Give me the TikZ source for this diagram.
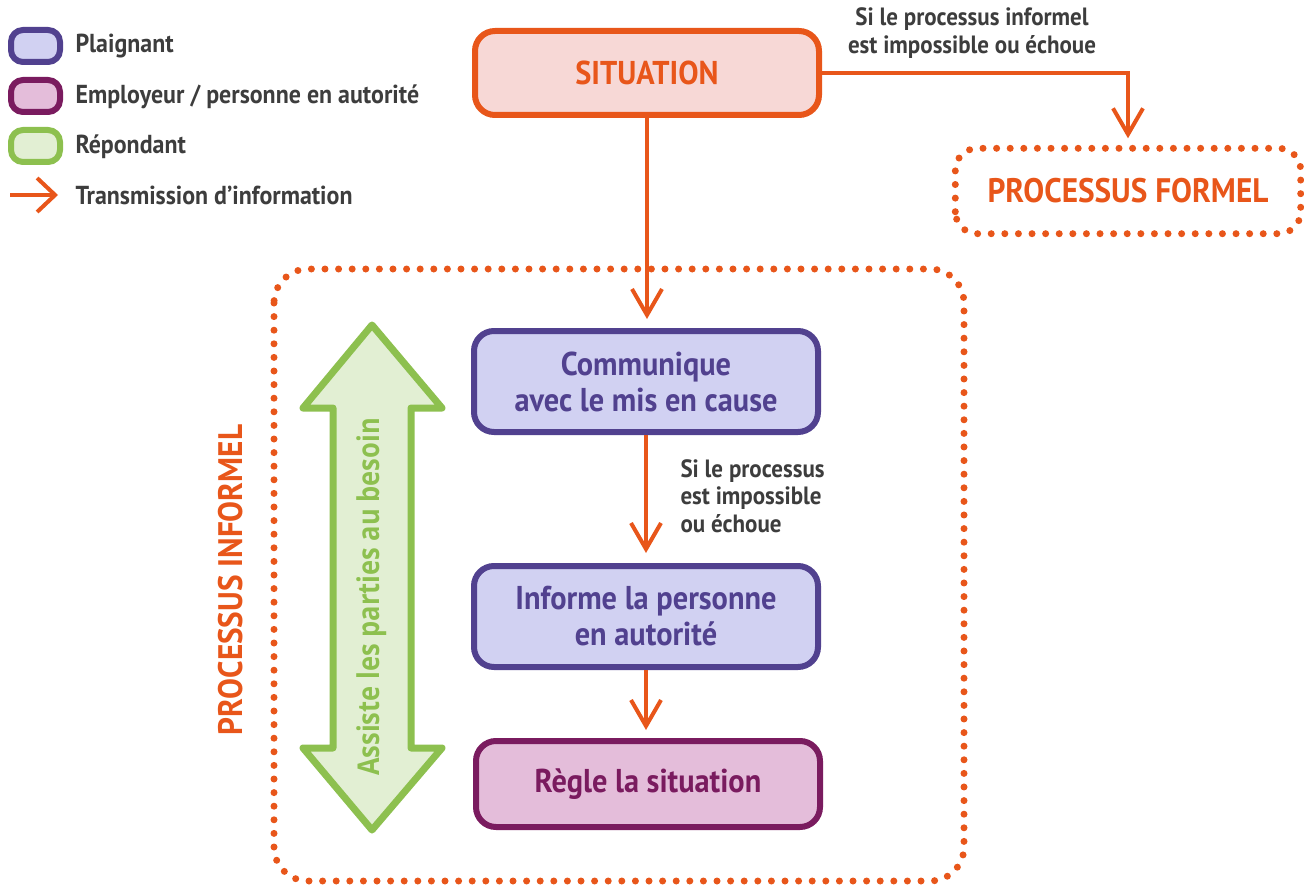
\documentclass[tikz,border=0pt]{standalone}
\usepackage{fontspec}
\setmainfont{PT Sans}[FakeStretch=0.92]
\newfontfamily\assistfont{Open Sans}[FakeStretch=0.85]
\usepackage{xcolor}
\usepackage{tikz}
\usetikzlibrary{arrows.meta, positioning, shapes.geometric}

\definecolor{orangeP}{HTML}{E8561A}
\definecolor{orangeF}{HTML}{F7D8D6}
\definecolor{purpleB}{HTML}{51418F}
\definecolor{purpleF}{HTML}{D1D1F2}
\definecolor{plumB}{HTML}{7A1B5F}
\definecolor{plumF}{HTML}{E4BDDA}
\definecolor{greenB}{HTML}{8DC04F}
\definecolor{greenF}{HTML}{E2EFD3}
\definecolor{textgray}{HTML}{3D3D3D}

\tikzset{
    box/.style={draw, line width=6pt, rounded corners=20pt, inner sep=0pt,
        minimum width=344pt, align=center,
        font=\bfseries\fontsize{33}{36}\selectfont},
    plaignant/.style={box, draw=purpleB, fill=purpleF, text=purpleB},
    employeur/.style={box, draw=plumB, fill=plumF, text=plumB},
    legbox/.style={draw, line width=6pt, rounded corners=12pt,
        minimum width=49pt, minimum height=32pt, inner sep=0pt},
    legtext/.style={anchor=west, text=textgray,
        font=\bfseries\fontsize{26}{30}\selectfont},
    note/.style={text=textgray, font=\bfseries\fontsize{25}{27.5}\selectfont},
    dotline/.style={draw=orangeP, line width=7pt, line cap=round,
        dash pattern=on 0pt off 13.6pt},
    flow/.style={draw=orangeP, line width=4pt,
        -{Straight Barb[length=26pt,width=30pt]}},
}

\begin{document}
\begin{tikzpicture}[x=1pt, y={(0,-1pt)}]
    \useasboundingbox (0,0) rectangle (1304,888);

    % Legend
    \node[legbox, draw=purpleB, fill=purpleF] (legP) at (35.5,46) {};
    \node[legbox, draw=plumB, fill=plumF] (legE) at (35.5,96) {};
    \node[legbox, draw=greenB, fill=greenF] (legR) at (35.5,146) {};
    \coordinate (legA) at (10,195);
    \coordinate (legB) at (58,195);
    \draw[flow, -{Straight Barb[length=18pt,width=34pt]}] (legA) -- (legB);

    \node[legtext] (txtP) at (72,46) {Plaignant};
    \node[legtext] (txtE) at (72,97) {Employeur / personne en autorité};
    \node[legtext] (txtR) at (72,147) {Répondant};
    \node[legtext] (txtT) at (72,195) {Transmission d’information};

    % Situation and formal process
    \node[box, draw=orangeP, fill=orangeF, text=orangeP, minimum height=84pt]
        (sit) at (647,73) {SITUATION};
    \node[draw=none, minimum width=345pt, minimum height=85pt,
        text=orangeP, font=\bfseries\fontsize{34}{40}\selectfont]
        (formel) at (1128,191) {PROCESSUS FORMEL};
    \draw[dotline, rounded corners=22pt]
        (formel.south west) rectangle (formel.north east);
    \node[note, align=center] (noteF) at (972,33)
        {Si le processus informel\\est impossible ou échoue};

    % Informal process frame
    \coordinate (infA) at (274,269);
    \coordinate (infB) at (964,881);
    \draw[dotline, rounded corners=34pt] (infA) rectangle (infB);
    \node[rotate=90, text=orangeP, font=\bfseries\fontsize{34}{38}\selectfont]
        (informel) at (231,580) {PROCESSUS INFORMEL};

    % Steps
    \node[plaignant, minimum height=101pt] (comm) at (646,381.5)
        {Communique\\avec le mis en cause};
    \node[plaignant, minimum height=101pt] (inform) at (646,616.5)
        {Informe la personne\\en autorité};
    \node[employeur, minimum height=86pt] (regle) at (648,784)
        {Règle la situation};

    \node[note, anchor=west, align=left] (noteC) at (677,496)
        {Si le processus\\est impossible\\ou échoue};

    % Connectors
    \draw[flow, shorten >=10pt] (sit.east) -| (formel.north);
    \draw[flow, shorten >=9pt] (sit.south) -- (sit.south |- comm.north);
    \draw[flow, shorten >=10pt] (comm.south) -- (comm.south |- inform.north);
    \draw[flow, shorten >=8pt] (inform.south) -- (inform.south |- regle.north);

    % Double arrow for the respondent
    \draw[draw=greenB, fill=greenF, line width=7pt, line join=round]
        (372,325) -- (442,408) -- (411,408) -- (411,748) -- (442,748)
        -- (372,830) -- (303,748) -- (333,748) -- (333,408)
        -- (303,408) -- cycle;
    \node[rotate=90, text=greenB,
        font=\assistfont\bfseries\fontsize{30}{34}\selectfont]
        (assist) at (372,597) {Assiste les parties au besoin};

\end{tikzpicture}
\end{document}
